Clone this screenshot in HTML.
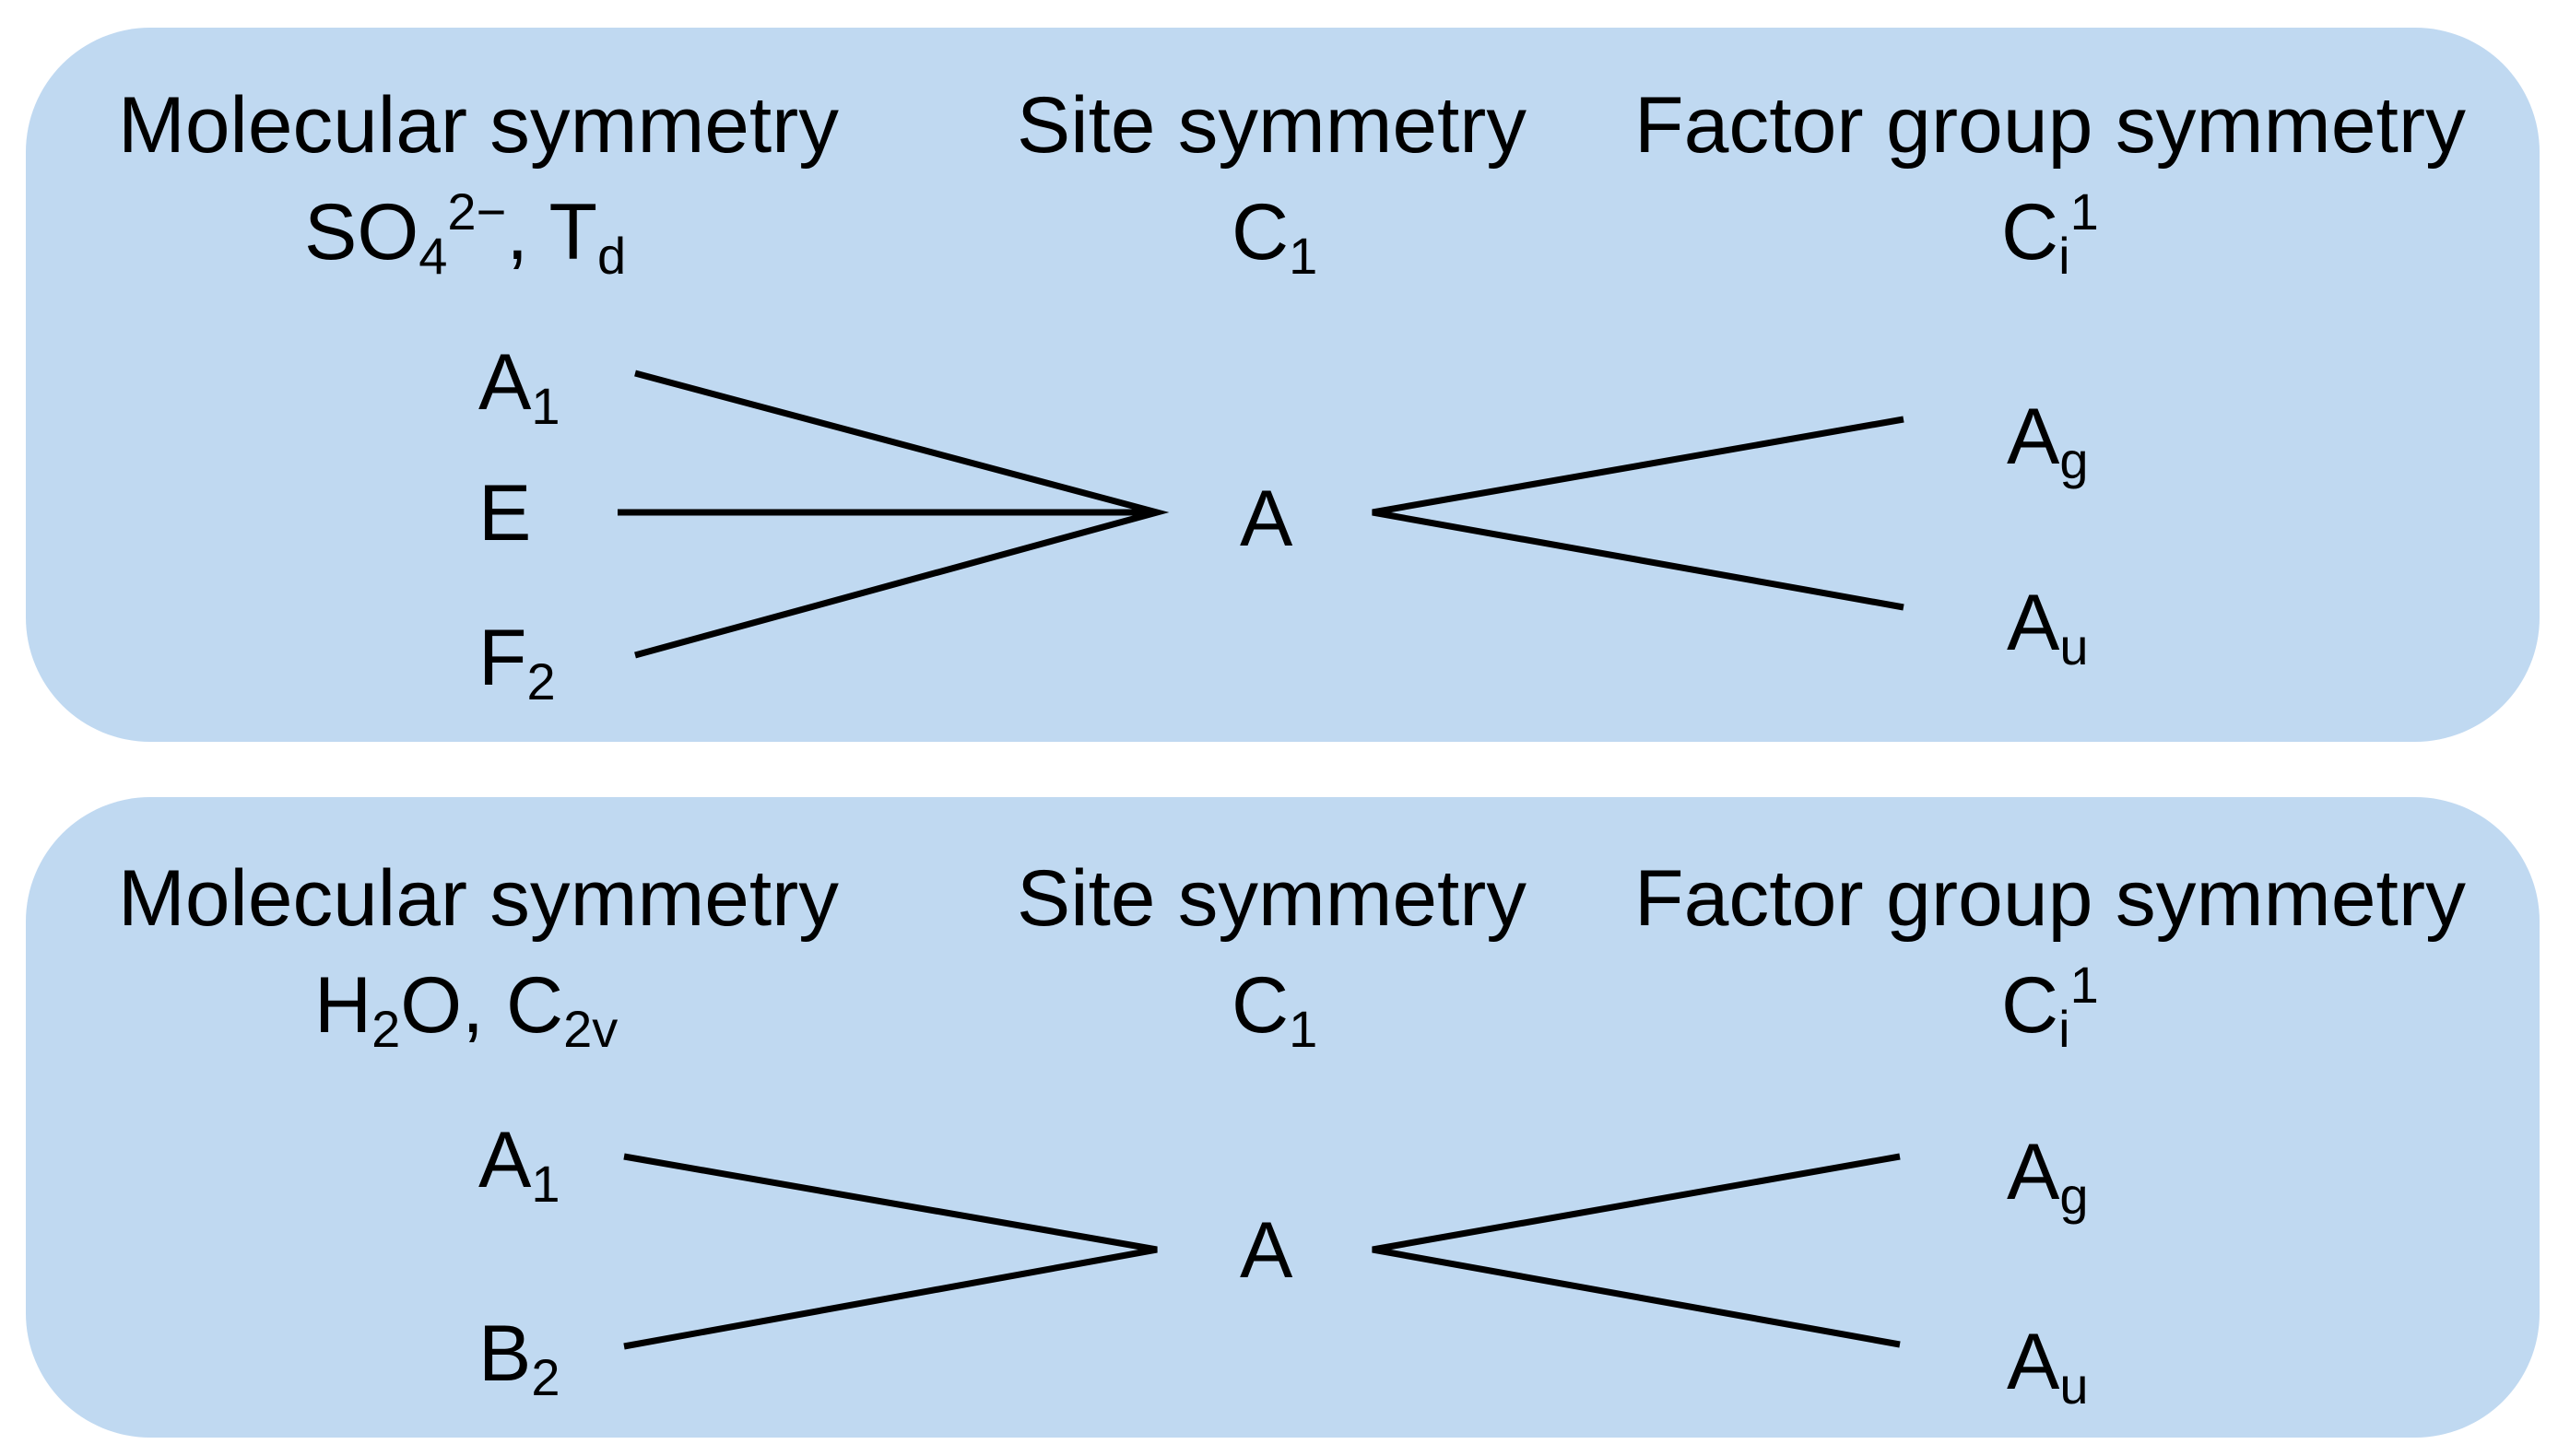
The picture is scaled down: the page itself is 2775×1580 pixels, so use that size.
<!DOCTYPE html>
<html><head><meta charset="utf-8"><style>
html,body{margin:0;padding:0;background:#fff;}
svg{display:block;}
text{font-family:"Liberation Sans",Arial,sans-serif;fill:#000;}
</style></head><body>
<svg width="2775" height="1580" viewBox="0 0 2775 1580" xmlns="http://www.w3.org/2000/svg">
<rect x="28" y="30" width="2727" height="775" rx="135" ry="135" fill="#c0d9f1"/>
<rect x="28" y="865" width="2727" height="695" rx="135" ry="135" fill="#c0d9f1"/>
<g font-size="86">
<text x="128" y="165" textLength="782" lengthAdjust="spacingAndGlyphs">Molecular symmetry</text>
<text x="1103" y="165" textLength="553" lengthAdjust="spacingAndGlyphs">Site symmetry</text>
<text x="1773" y="165" textLength="902" lengthAdjust="spacingAndGlyphs">Factor group symmetry</text>
<text x="330" y="281">SO<tspan font-size="56" dy="16">4</tspan><tspan font-size="56" dy="-48">2−</tspan><tspan dy="32">,  T</tspan><tspan font-size="56" dy="16">d</tspan></text>
<text x="1336" y="281">C<tspan font-size="56" dy="16">1</tspan></text>
<text x="2171" y="281">C<tspan font-size="56" dy="16">i</tspan><tspan font-size="56" dy="-48">1</tspan></text>
<text x="519" y="444">A<tspan font-size="56" dy="16">1</tspan></text>
<text x="519" y="586">E</text>
<text x="519" y="743">F<tspan font-size="56" dy="16">2</tspan></text>
<text x="1345" y="592">A</text>
<text x="2177" y="503">A<tspan font-size="56" dy="16">g</tspan></text>
<text x="2177" y="705">A<tspan font-size="56" dy="16">u</tspan></text>

<text x="128" y="1004" textLength="782" lengthAdjust="spacingAndGlyphs">Molecular symmetry</text>
<text x="1103" y="1004" textLength="553" lengthAdjust="spacingAndGlyphs">Site symmetry</text>
<text x="1773" y="1004" textLength="902" lengthAdjust="spacingAndGlyphs">Factor group symmetry</text>
<text x="341" y="1120">H<tspan font-size="56" dy="16">2</tspan><tspan dy="-16">O,  C</tspan><tspan font-size="56" dy="16">2v</tspan></text>
<text x="1336" y="1120">C<tspan font-size="56" dy="16">1</tspan></text>
<text x="2171" y="1120">C<tspan font-size="56" dy="16">i</tspan><tspan font-size="56" dy="-48">1</tspan></text>
<text x="519" y="1288">A<tspan font-size="56" dy="16">1</tspan></text>
<text x="519" y="1498">B<tspan font-size="56" dy="16">2</tspan></text>
<text x="1345" y="1386">A</text>
<text x="2177" y="1301">A<tspan font-size="56" dy="16">g</tspan></text>
<text x="2177" y="1507">A<tspan font-size="56" dy="16">u</tspan></text>
</g>
<g stroke="#000" stroke-width="7" fill="none" stroke-linejoin="miter">
<polyline points="689,405 1255,556 689,711"/>
<line x1="670" y1="556" x2="1255" y2="556"/>
<polyline points="2065,455 1489,556 2065,659"/>
<polyline points="677,1255 1255,1356 677,1461"/>
<polyline points="2061,1255 1489,1356 2061,1459"/>
</g>
</svg>
</body></html>
